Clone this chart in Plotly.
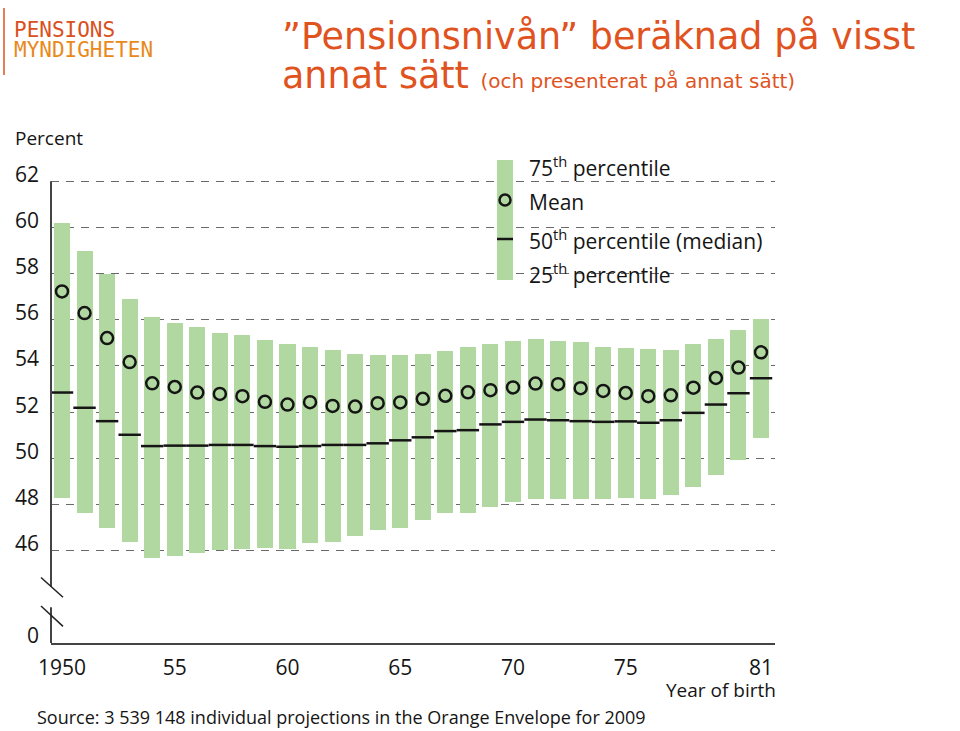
import plotly.graph_objects as go

# ---------------- data ----------------
years = list(range(1950, 1982))
p75 = [60.2, 58.98, 58.0, 56.9, 56.12, 55.87, 55.67, 55.42, 55.34, 55.11,
       54.96, 54.81, 54.71, 54.52, 54.46, 54.46, 54.53, 54.63, 54.82, 54.95,
       55.09, 55.15, 55.09, 55.02, 54.81, 54.78, 54.72, 54.69, 54.94, 55.17,
       55.55, 56.03]
p25 = [48.30, 47.65, 46.99, 46.36, 45.68, 45.78, 45.90, 46.01, 46.07, 46.10,
       46.07, 46.35, 46.36, 46.63, 46.89, 46.99, 47.32, 47.64, 47.65, 47.88,
       48.10, 48.23, 48.24, 48.23, 48.23, 48.27, 48.24, 48.42, 48.76, 49.28,
       49.94, 50.89]
median = [52.85, 52.19, 51.61, 51.02, 50.53, 50.55, 50.55, 50.58, 50.58, 50.53,
          50.50, 50.53, 50.58, 50.58, 50.65, 50.78, 50.91, 51.18, 51.22, 51.47,
          51.58, 51.68, 51.65, 51.61, 51.58, 51.60, 51.54, 51.65, 51.97, 52.33,
          52.82, 53.47]
mean = [57.23, 56.29, 55.21, 54.17, 53.25, 53.09, 52.85, 52.79, 52.69, 52.45,
        52.33, 52.43, 52.27, 52.24, 52.39, 52.42, 52.58, 52.71, 52.86, 52.95,
        53.07, 53.24, 53.21, 53.04, 52.92, 52.83, 52.69, 52.73, 53.06, 53.48,
        53.93, 54.59]

x_tickvals = [1950, 1955, 1960, 1965, 1970, 1975, 1981]
x_ticktext = ["1950", "55", "60", "65", "70", "75", "81"]
y_tickvals = [42, 46, 48, 50, 52, 54, 56, 58, 60, 62]
y_ticktext = ["0", "46", "48", "50", "52", "54", "56", "58", "60", "62"]

legend_labels = ["75<sup>th</sup> percentile", "Mean",
                 "50<sup>th</sup> percentile (median)", "25<sup>th</sup> percentile"]

# ---------------- layout constants ----------------
W, H = 960, 731
ML, MR, MT, MB = 51, 185, 179, 88
PW, PH = W - ML - MR, H - MT - MB
Y0, Y1 = 42, 62.1

def px(x):
    return (x - ML) / PW

def py(y):
    return (H - MB - y) / PH

def vy(v):
    return (v - Y0) / (Y1 - Y0)

GREEN = "#B2D8A1"
ORANGE = "#E0531F"
FONT = "Open Sans"
INK = "#151515"

fig = go.Figure()

fig.add_trace(go.Bar(
    x=years, y=[a - b for a, b in zip(p75, p25)], base=p25,
    width=0.71, marker=dict(color=GREEN, line=dict(width=0)),
    showlegend=False, hoverinfo="skip"))

fig.add_trace(go.Scatter(
    x=years, y=median, mode="markers",
    marker=dict(symbol="line-ew", size=16, line=dict(color=INK, width=2.5)),
    showlegend=False))

fig.add_trace(go.Scatter(
    x=years, y=mean, mode="markers",
    marker=dict(symbol="circle-open", size=12, color=INK,
                line=dict(color=INK, width=2.5)),
    showlegend=False))

shapes = []
# y axis line with break
shapes.append(dict(type="line", xref="paper", yref="paper", x0=0, x1=0, y0=vy(62), y1=vy(44.45),
                   line=dict(color="#444", width=2)))
shapes.append(dict(type="line", xref="paper", yref="paper", x0=0, x1=0, y0=vy(43.55), y1=0,
                   line=dict(color="#444", width=2)))
for (ya, yb) in [(44.84, 43.98), (43.60, 42.72)]:
    shapes.append(dict(type="line", xref="paper", yref="paper", xsizemode="pixel", xanchor=0,
                       x0=-10, x1=12, y0=vy(ya), y1=vy(yb), line=dict(color="#222", width=1.5)))

# legend glyphs
shapes.append(dict(type="rect", xref="paper", yref="paper", x0=px(497), x1=px(513),
                   y0=py(280), y1=py(160), fillcolor=GREEN, line=dict(width=0)))
shapes.append(dict(type="circle", xref="paper", yref="paper", xsizemode="pixel",
                   ysizemode="pixel", xanchor=px(505), yanchor=py(200),
                   x0=-5.5, x1=5.5, y0=-5.5, y1=5.5, line=dict(color=INK, width=2.5)))
shapes.append(dict(type="line", xref="paper", yref="paper", x0=px(497), x1=px(513),
                   y0=py(239), y1=py(239), line=dict(color=INK, width=2.5)))

# logo bar
shapes.append(dict(type="line", xref="paper", yref="paper", x0=px(4), x1=px(4),
                   y0=py(8), y1=py(75), line=dict(color=ORANGE, width=1.5)))

ann = []
for lab, yc in zip(legend_labels, [166, 202, 239, 273]):
    ann.append(dict(text=lab, x=px(527), y=py(yc), xref="paper", yref="paper",
                    xanchor="left", yanchor="middle", showarrow=False,
                    font=dict(family=FONT, size=21, color=INK)))

ann.append(dict(text="Percent", x=px(13), y=py(138), xref="paper", yref="paper",
                xanchor="left", yanchor="middle", showarrow=False,
                font=dict(family=FONT, size=19, color=INK)))
ann.append(dict(text="Year of birth", x=px(778), y=py(690), xref="paper", yref="paper",
                xanchor="right", yanchor="middle", showarrow=False,
                font=dict(family=FONT, size=19, color=INK)))
ann.append(dict(text="Source: 3 539 148 individual projections in the Orange Envelope for 2009",
                x=px(35), y=py(717), xref="paper", yref="paper",
                xanchor="left", yanchor="middle", showarrow=False,
                font=dict(family=FONT, size=18, color=INK)))

# title
ann.append(dict(text="\u201dPensionsnivån\u201d beräknad på visst", x=px(280), y=py(36),
                xref="paper", yref="paper", xanchor="left", yanchor="middle",
                showarrow=False, font=dict(family="DejaVu Sans", size=36.5, color=ORANGE)))
ann.append(dict(text="annat sätt <span style='font-size:20px'>(och presenterat på annat sätt)</span>",
                x=px(280), y=py(76), xref="paper", yref="paper", xanchor="left",
                yanchor="middle", showarrow=False,
                font=dict(family="DejaVu Sans", size=36.5, color=ORANGE)))

# logo text
ann.append(dict(text="PENSIONS", x=px(12), y=py(30), xref="paper", yref="paper",
                xanchor="left", yanchor="middle", showarrow=False,
                font=dict(family="DejaVu Sans Mono", size=21, color="#D9501E")))
ann.append(dict(text="MYNDIGHETEN", x=px(12), y=py(50), xref="paper", yref="paper",
                xanchor="left", yanchor="middle", showarrow=False,
                font=dict(family="DejaVu Sans Mono", size=21, color="#E8891A")))

fig.update_layout(
    width=W, height=H,
    margin=dict(l=ML, r=MR, t=MT, b=MB, pad=0),
    paper_bgcolor="white", plot_bgcolor="white",
    shapes=shapes, annotations=ann,
    bargap=0, showlegend=False,
    font=dict(family=FONT, color=INK),
    xaxis=dict(range=[1949.512, 1981.62], tickvals=x_tickvals, ticktext=x_ticktext,
               showgrid=False, zeroline=False, showline=True, linecolor="#444", linewidth=2,
               ticks="", ticklabelstandoff=5, tickfont=dict(family=FONT, size=21, color=INK)),
    yaxis=dict(range=[Y0, Y1], tickvals=y_tickvals, ticktext=y_ticktext,
               showgrid=True, gridcolor="#6a6a6a", gridwidth=1.2, griddash="8px,7px",
               zeroline=False, showline=False, ticks="", ticklabelstandoff=11,
               ticklabelshift=-7, tickfont=dict(family=FONT, size=21, color=INK)),
)

fig.write_html("out.html", config={"displayModeBar": False},
               post_script="document.body.style.margin='0';document.body.style.padding='0';")
